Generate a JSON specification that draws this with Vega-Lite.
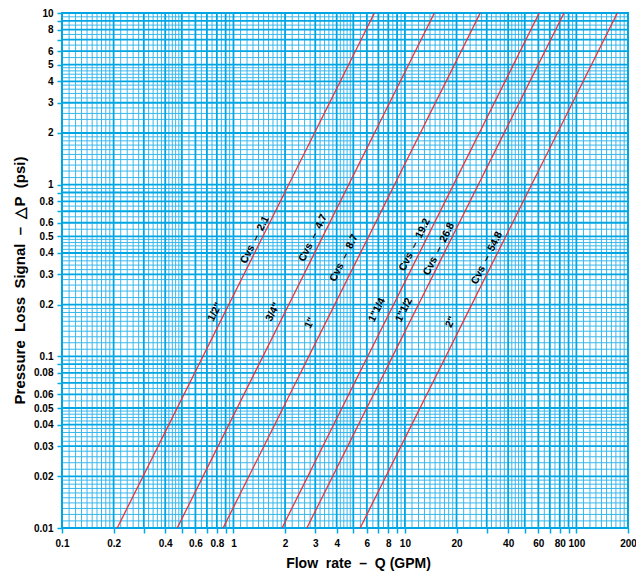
{
  "$schema": "https://vega.github.io/schema/vega-lite/v6.json",
  "width": 566,
  "height": 515,
  "autosize": {"type": "none"},
  "padding": {"left": 62, "top": 13, "right": 8, "bottom": 44},
  "background": "white",
  "config": {
    "view": {"stroke": "#00a9e8", "strokeWidth": 2},
    "axis": {
      "grid": false, "domain": false,
      "tickColor": "#00a9e8", "tickSize": 5, "tickWidth": 1.5,
      "labelFont": "Liberation Sans", "labelFontWeight": "bold", "labelFontSize": 10, "labelColor": "#000",
      "labelOverlap": false, "labelFlush": false, "labelBound": false,
      "titleFont": "Liberation Sans", "titleFontSize": 14, "titleFontWeight": "bold", "titleColor": "#000",
      "titleAlign": "center", "titleBaseline": "middle", "format": "~g"
    },
    "axisX": {"labelPadding": 5, "titleX": 296, "titleY": 35},
    "axisY": {"labelPadding": 4, "titleX": -43, "titleY": 267, "titleAngle": -90, "titleFontSize": 15}
  },
  "datasets": {
    "xmaj": [0.1,0.2,0.3,0.4,0.5,0.6,0.7,0.8,0.9,1,2,3,4,5,6,7,8,9,10,20,30,40,50,60,70,80,90,100,200],
    "xmin": [0.11,0.12,0.13,0.14,0.15,0.16,0.17,0.18,0.19,0.22,0.24,0.26,0.28,0.32,0.34,0.36,0.38,0.42,0.44,0.46,0.48,0.55,0.65,0.75,0.85,0.95,1.1,1.2,1.3,1.4,1.5,1.6,1.7,1.8,1.9,2.2,2.4,2.6,2.8,3.2,3.4,3.6,3.8,4.2,4.4,4.6,4.8,5.5,6.5,7.5,8.5,9.5,11,12,13,14,15,16,17,18,19,22,24,26,28,32,34,36,38,42,44,46,48,55,65,75,85,95,110,120,130,140,150,160,170,180,190],
    "ymaj": [0.01,0.02,0.03,0.04,0.05,0.06,0.07,0.08,0.09,0.1,0.2,0.3,0.4,0.5,0.6,0.7,0.8,0.9,1,2,3,4,5,6,7,8,9,10],
    "ymin": [0.011,0.012,0.013,0.014,0.015,0.016,0.017,0.018,0.019,0.022,0.024,0.026,0.028,0.032,0.034,0.036,0.038,0.042,0.044,0.046,0.048,0.055,0.065,0.075,0.085,0.095,0.11,0.12,0.13,0.14,0.15,0.16,0.17,0.18,0.19,0.22,0.24,0.26,0.28,0.32,0.34,0.36,0.38,0.42,0.44,0.46,0.48,0.55,0.65,0.75,0.85,0.95,1.1,1.2,1.3,1.4,1.5,1.6,1.7,1.8,1.9,2.2,2.4,2.6,2.8,3.2,3.4,3.6,3.8,4.2,4.4,4.6,4.8,5.5,6.5,7.5,8.5,9.5],
    "curves": [
      {"Cv": "2.1", "Q": 0.21, "dP": 0.01}, {"Cv": "2.1", "Q": 6.64, "dP": 10},
      {"Cv": "4.7", "Q": 0.47, "dP": 0.01}, {"Cv": "4.7", "Q": 14.86, "dP": 10},
      {"Cv": "8.7", "Q": 0.87, "dP": 0.01}, {"Cv": "8.7", "Q": 27.5, "dP": 10},
      {"Cv": "19.2", "Q": 1.92, "dP": 0.01}, {"Cv": "19.2", "Q": 60.7, "dP": 10},
      {"Cv": "26.8", "Q": 2.68, "dP": 0.01}, {"Cv": "26.8", "Q": 84.7, "dP": 10},
      {"Cv": "54.8", "Q": 5.48, "dP": 0.01}, {"Cv": "54.8", "Q": 173.3, "dP": 10}
    ],
    "labels": [
      {"Q": 0.78, "dP": 0.1815, "label": "1/2\""},
      {"Q": 1.334, "dP": 0.476, "label": "Cvs\u00a0 –\u00a0 2.1"},
      {"Q": 1.70, "dP": 0.1815, "label": "3/4\""},
      {"Q": 2.91, "dP": 0.489, "label": "Cvs\u00a0 –\u00a0 4.7"},
      {"Q": 2.79, "dP": 0.1565, "label": "1\""},
      {"Q": 4.41, "dP": 0.374, "label": "Cvs\u00a0 –\u00a0 8.7"},
      {"Q": 6.87, "dP": 0.186, "label": "1\"1/4"},
      {"Q": 11.4, "dP": 0.446, "label": "Cvs\u00a0 –\u00a0 19.2"},
      {"Q": 9.87, "dP": 0.186, "label": "1\"1/2"},
      {"Q": 15.8, "dP": 0.422, "label": "Cvs\u00a0 –\u00a0 26.8"},
      {"Q": 18.5, "dP": 0.1586, "label": "2\""},
      {"Q": 30.1, "dP": 0.374, "label": "Cvs\u00a0 –\u00a0 54.8"}
    ]
  },
  "layer": [
    {
      "data": {"name": "xmin"},
      "mark": {"type": "rule", "color": "#2fb4ec", "strokeWidth": 1, "opacity": 0.95},
      "encoding": {"x": {"field": "data", "type": "quantitative", "scale": {"type": "log", "domain": [0.1, 200], "nice": false},
        "axis": {"values": [0.1,0.2,0.3,0.4,0.5,0.6,0.7,0.8,0.9,1,2,3,4,5,6,7,8,9,10,20,30,40,50,60,70,80,90,100,200],
          "labelExpr": "indexof([0.3,0.5,0.7,0.9,5,7,9,30,50,70,90], datum.value) >= 0 ? '' : datum.label",
          "title": "Flow\u00a0 rate\u00a0 –\u00a0 Q (GPM)"}}}
    },
    {
      "data": {"name": "ymin"},
      "mark": {"type": "rule", "color": "#2fb4ec", "strokeWidth": 1, "opacity": 0.95},
      "encoding": {"y": {"field": "data", "type": "quantitative", "scale": {"type": "log", "domain": [0.01, 10], "nice": false},
        "axis": {"values": [0.01,0.02,0.03,0.04,0.05,0.06,0.07,0.08,0.09,0.1,0.2,0.3,0.4,0.5,0.6,0.7,0.8,0.9,1,2,3,4,5,6,7,8,9,10],
          "labelExpr": "indexof([0.07,0.09,0.7,0.9,7,9], datum.value) >= 0 ? '' : datum.label",
          "title": "Pressure\u00a0 Loss\u00a0 Signal\u00a0 –\u00a0 △P\u00a0 (psi)"}}}
    },
    {
      "data": {"name": "xmaj"},
      "mark": {"type": "rule", "color": "#00a5e3", "strokeWidth": 1.8},
      "encoding": {"x": {"field": "data", "type": "quantitative", "scale": {"type": "log", "domain": [0.1, 200], "nice": false},
        "axis": {"values": [0.1,0.2,0.3,0.4,0.5,0.6,0.7,0.8,0.9,1,2,3,4,5,6,7,8,9,10,20,30,40,50,60,70,80,90,100,200],
          "labelExpr": "indexof([0.3,0.5,0.7,0.9,5,7,9,30,50,70,90], datum.value) >= 0 ? '' : datum.label",
          "title": "Flow\u00a0 rate\u00a0 –\u00a0 Q (GPM)"}}}
    },
    {
      "data": {"name": "ymaj"},
      "mark": {"type": "rule", "color": "#00a5e3", "strokeWidth": 1.8},
      "encoding": {"y": {"field": "data", "type": "quantitative", "scale": {"type": "log", "domain": [0.01, 10], "nice": false},
        "axis": {"values": [0.01,0.02,0.03,0.04,0.05,0.06,0.07,0.08,0.09,0.1,0.2,0.3,0.4,0.5,0.6,0.7,0.8,0.9,1,2,3,4,5,6,7,8,9,10],
          "labelExpr": "indexof([0.07,0.09,0.7,0.9,7,9], datum.value) >= 0 ? '' : datum.label",
          "title": "Pressure\u00a0 Loss\u00a0 Signal\u00a0 –\u00a0 △P\u00a0 (psi)"}}}
    },
    {
      "data": {"name": "curves"},
      "mark": {"type": "line", "color": "#e8323c", "strokeWidth": 1.3, "clip": true},
      "encoding": {
        "detail": {"field": "Cv"},
        "x": {"field": "Q", "type": "quantitative", "scale": {"type": "log", "domain": [0.1, 200], "nice": false},
          "axis": {"values": [0.1,0.2,0.3,0.4,0.5,0.6,0.7,0.8,0.9,1,2,3,4,5,6,7,8,9,10,20,30,40,50,60,70,80,90,100,200],
            "labelExpr": "indexof([0.3,0.5,0.7,0.9,5,7,9,30,50,70,90], datum.value) >= 0 ? '' : datum.label",
            "title": "Flow\u00a0 rate\u00a0 –\u00a0 Q (GPM)"}},
        "y": {"field": "dP", "type": "quantitative", "scale": {"type": "log", "domain": [0.01, 10], "nice": false},
          "axis": {"values": [0.01,0.02,0.03,0.04,0.05,0.06,0.07,0.08,0.09,0.1,0.2,0.3,0.4,0.5,0.6,0.7,0.8,0.9,1,2,3,4,5,6,7,8,9,10],
            "labelExpr": "indexof([0.07,0.09,0.7,0.9,7,9], datum.value) >= 0 ? '' : datum.label",
            "title": "Pressure\u00a0 Loss\u00a0 Signal\u00a0 –\u00a0 △P\u00a0 (psi)"}}
      }
    },
    {
      "data": {"name": "labels"},
      "mark": {"type": "text", "angle": -63.4, "font": "Liberation Sans", "fontWeight": "bold", "fontSize": 10.5, "color": "#000", "align": "center", "baseline": "middle"},
      "encoding": {
        "x": {"field": "Q", "type": "quantitative", "scale": {"type": "log", "domain": [0.1, 200], "nice": false},
          "axis": {"values": [0.1,0.2,0.3,0.4,0.5,0.6,0.7,0.8,0.9,1,2,3,4,5,6,7,8,9,10,20,30,40,50,60,70,80,90,100,200],
            "labelExpr": "indexof([0.3,0.5,0.7,0.9,5,7,9,30,50,70,90], datum.value) >= 0 ? '' : datum.label",
            "title": "Flow\u00a0 rate\u00a0 –\u00a0 Q (GPM)"}},
        "y": {"field": "dP", "type": "quantitative", "scale": {"type": "log", "domain": [0.01, 10], "nice": false},
          "axis": {"values": [0.01,0.02,0.03,0.04,0.05,0.06,0.07,0.08,0.09,0.1,0.2,0.3,0.4,0.5,0.6,0.7,0.8,0.9,1,2,3,4,5,6,7,8,9,10],
            "labelExpr": "indexof([0.07,0.09,0.7,0.9,7,9], datum.value) >= 0 ? '' : datum.label",
            "title": "Pressure\u00a0 Loss\u00a0 Signal\u00a0 –\u00a0 △P\u00a0 (psi)"}},
        "text": {"field": "label"}
      }
    }
  ]
}
